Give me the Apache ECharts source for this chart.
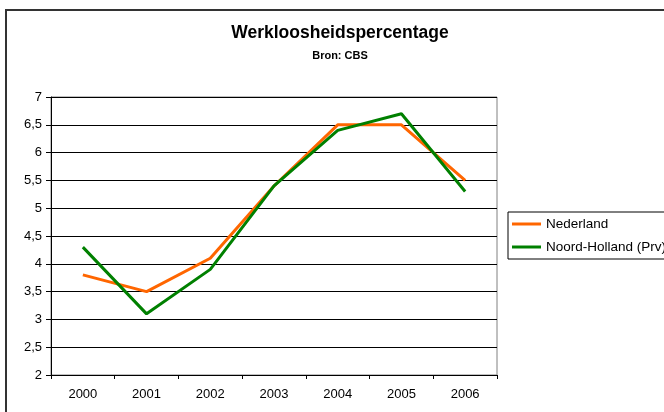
<!DOCTYPE html>
<html>
<head>
<meta charset="utf-8">
<script src="https://cdn.jsdelivr.net/npm/echarts@6/dist/echarts.min.js"></script>
<style>
html,body{margin:0;padding:0;background:#fff;}
#c{width:664px;height:412px;}
</style>
</head>
<body>
<div id="c"></div>
<script>
var years = ['2000','2001','2002','2003','2004','2005','2006'];
var nederland = [3.8, 3.5, 4.1, 5.4, 6.5, 6.5, 5.5];
var noordHolland = [4.3, 3.1, 3.9, 5.4, 6.4, 6.7, 5.3];
var seriesNames = ['Nederland', 'Noord-Holland (Prv)'];
var titleText = 'Werkloosheidspercentage';
var subTitleText = 'Bron: CBS';

var FONT = '"Liberation Sans", Arial, sans-serif';
var chart = echarts.init(document.getElementById('c'), null, {renderer: 'canvas'});
chart.setOption({
  animation: false,
  backgroundColor: '#fff',
  textStyle: {fontFamily: FONT},
  graphic: [{
    type: 'rect',
    shape: {x: 6, y: 10, width: 720, height: 500},
    style: {fill: 'none', stroke: '#333', lineWidth: 2},
    silent: true,
    z: -1
  }],
  title: {
    text: titleText,
    subtext: subTitleText,
    left: 340,
    top: 24,
    padding: 0,
    itemGap: 8,
    textAlign: 'center',
    textStyle: {fontFamily: FONT, fontSize: 17.5, fontWeight: 'bold', color: '#000'},
    subtextStyle: {fontFamily: FONT, fontSize: 11, fontWeight: 'bold', color: '#000'}
  },
  legend: {
    data: seriesNames,
    orient: 'vertical',
    left: 508,
    top: 212,
    padding: [5, 6, 5, 4],
    itemGap: 9,
    itemWidth: 29,
    itemHeight: 3,
    itemTextGap: 3,
    icon: 'rect',
    borderColor: '#000',
    borderWidth: 1,
    borderRadius: 0,
    textStyle: {fontFamily: FONT, fontSize: 13.5, color: '#000', lineHeight: 14}
  },
  grid: {
    left: 51, right: 167, top: 97, bottom: 37,
    show: true, borderColor: '#808080', borderWidth: 1, backgroundColor: '#fff',
    containLabel: false
  },
  xAxis: {
    type: 'category',
    data: years,
    boundaryGap: true,
    axisLine: {lineStyle: {color: '#000', width: 1}},
    axisTick: {show: true, length: 4, lineStyle: {color: '#000'}},
    axisLabel: {fontFamily: FONT, fontSize: 13, color: '#000', margin: 13},
    splitLine: {show: false}
  },
  yAxis: {
    type: 'value',
    min: 2, max: 7, interval: 0.5,
    axisLine: {show: true, lineStyle: {color: '#000', width: 1}},
    axisTick: {show: true, length: 5, lineStyle: {color: '#000'}},
    axisLabel: {fontFamily: FONT, fontSize: 13, color: '#000', margin: 9,
      formatter: function (v) { return String(v).replace('.', ','); }},
    splitLine: {show: true, lineStyle: {color: '#000', width: 1}}
  },
  series: [{
    name: seriesNames[0], type: 'line', data: nederland,
    symbol: 'none', lineStyle: {width: 3, color: '#FF6600'}, itemStyle: {color: '#FF6600'}
  }, {
    name: seriesNames[1], type: 'line', data: noordHolland,
    symbol: 'none', lineStyle: {width: 3, color: '#008000'}, itemStyle: {color: '#008000'}
  }]
});
</script>
</body>
</html>
